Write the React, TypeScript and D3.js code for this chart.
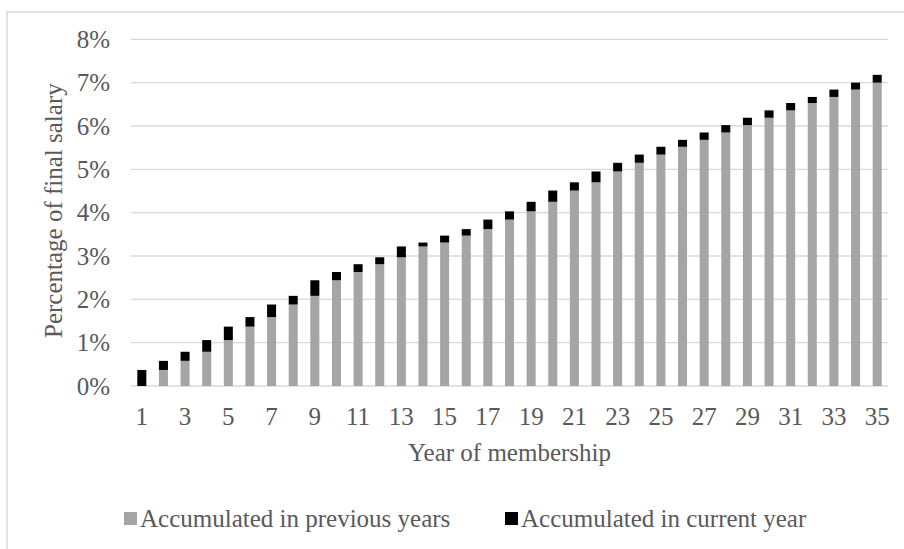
import React from "react";
import * as d3 from "d3";

const years: number[] = Array.from({ length: 35 }, (_, i) => i + 1);
const previousYears: number[] = [
  0, 0.37, 0.58, 0.79, 1.06, 1.37, 1.59, 1.88, 2.08, 2.44, 2.63, 2.81, 2.97, 3.22, 3.31, 3.47, 3.62, 3.84,
  4.03, 4.25, 4.51, 4.7, 4.95, 5.15, 5.34, 5.52, 5.68, 5.85, 6.02, 6.19, 6.36, 6.53, 6.67, 6.84, 7.0,
];
const currentYear: number[] = [
  0.37, 0.21, 0.21, 0.27, 0.31, 0.22, 0.29, 0.2, 0.36, 0.19, 0.18, 0.16, 0.25, 0.09, 0.16, 0.15, 0.22, 0.19,
  0.22, 0.26, 0.19, 0.25, 0.2, 0.19, 0.18, 0.16, 0.17, 0.17, 0.17, 0.17, 0.17, 0.14, 0.17, 0.16, 0.18,
];
const yTicks: number[] = [0, 1, 2, 3, 4, 5, 6, 7, 8];
const seriesNames: string[] = ["Accumulated in previous years", "Accumulated in current year"];
const seriesColors: string[] = ["#a5a5a5", "#000000"];

export default function App() {
  const W = 904;
  const H = 549;
  const left = 131;
  const right = 888;
  const top = 39.3;
  const bottom = 386;
  const font = "'Liberation Serif', 'Times New Roman', serif";
  const textColor = "#595959";
  const fs = 25;

  const x = d3
    .scaleBand<number>()
    .domain(years)
    .range([left, right])
    .paddingInner(0.583)
    .paddingOuter(0.2915);
  const y = d3.scaleLinear().domain([0, 8]).range([bottom, top]);

  const stacked = years.map((yr, i) => ({
    yr,
    prev: previousYears[i],
    cur: currentYear[i],
  }));

  return (
    <svg
      width={W}
      height={H}
      style={{ position: "absolute", left: 0, top: 0, background: "#fff" }}
      fontFamily={font}
    >
      <rect x={0} y={0} width={W} height={H} fill="#fff" />
      <rect x={7} y={12} width={W + 20} height={H + 20} fill="none" stroke="#d9d9d9" strokeWidth={1.5} />
      {yTicks.map((t) => (
        <g key={t}>
          <line x1={left} x2={right} y1={y(t)} y2={y(t)} stroke="#d9d9d9" strokeWidth={1.3} />
          <text x={110} y={y(t)} dy="0.35em" textAnchor="end" fontSize={fs} fill={textColor}>
            {t}%
          </text>
        </g>
      ))}
      {stacked.map((d) => (
        <g key={d.yr}>
          <rect
            x={x(d.yr)}
            width={x.bandwidth()}
            y={y(d.prev)}
            height={y(0) - y(d.prev)}
            fill={seriesColors[0]}
          />
          <rect
            x={x(d.yr)}
            width={x.bandwidth()}
            y={y(d.prev + d.cur)}
            height={y(d.prev) - y(d.prev + d.cur)}
            fill={seriesColors[1]}
          />
        </g>
      ))}
      {years
        .filter((yr) => yr % 2 === 1)
        .map((yr) => (
          <text
            key={yr}
            x={(x(yr) as number) + x.bandwidth() / 2}
            y={425}
            textAnchor="middle"
            fontSize={fs}
            fill={textColor}
          >
            {yr}
          </text>
        ))}
      <text x={(left + right) / 2} y={461} textAnchor="middle" fontSize={fs} fill={textColor}>
        Year of membership
      </text>
      <text
        transform={`translate(62, ${(top + bottom) / 2 - 2}) rotate(-90)`}
        textAnchor="middle"
        fontSize={fs}
        fill={textColor}
      >
        Percentage of final salary
      </text>
      {seriesNames.map((name, i) => {
        const lx = i === 0 ? 124 : 505;
        return (
          <g key={name}>
            <rect x={lx} y={512} width={13} height={13} fill={seriesColors[i]} />
            <text x={lx + 16} y={527} fontSize={fs} fill={textColor}>
              {name}
            </text>
          </g>
        );
      })}
    </svg>
  );
}
